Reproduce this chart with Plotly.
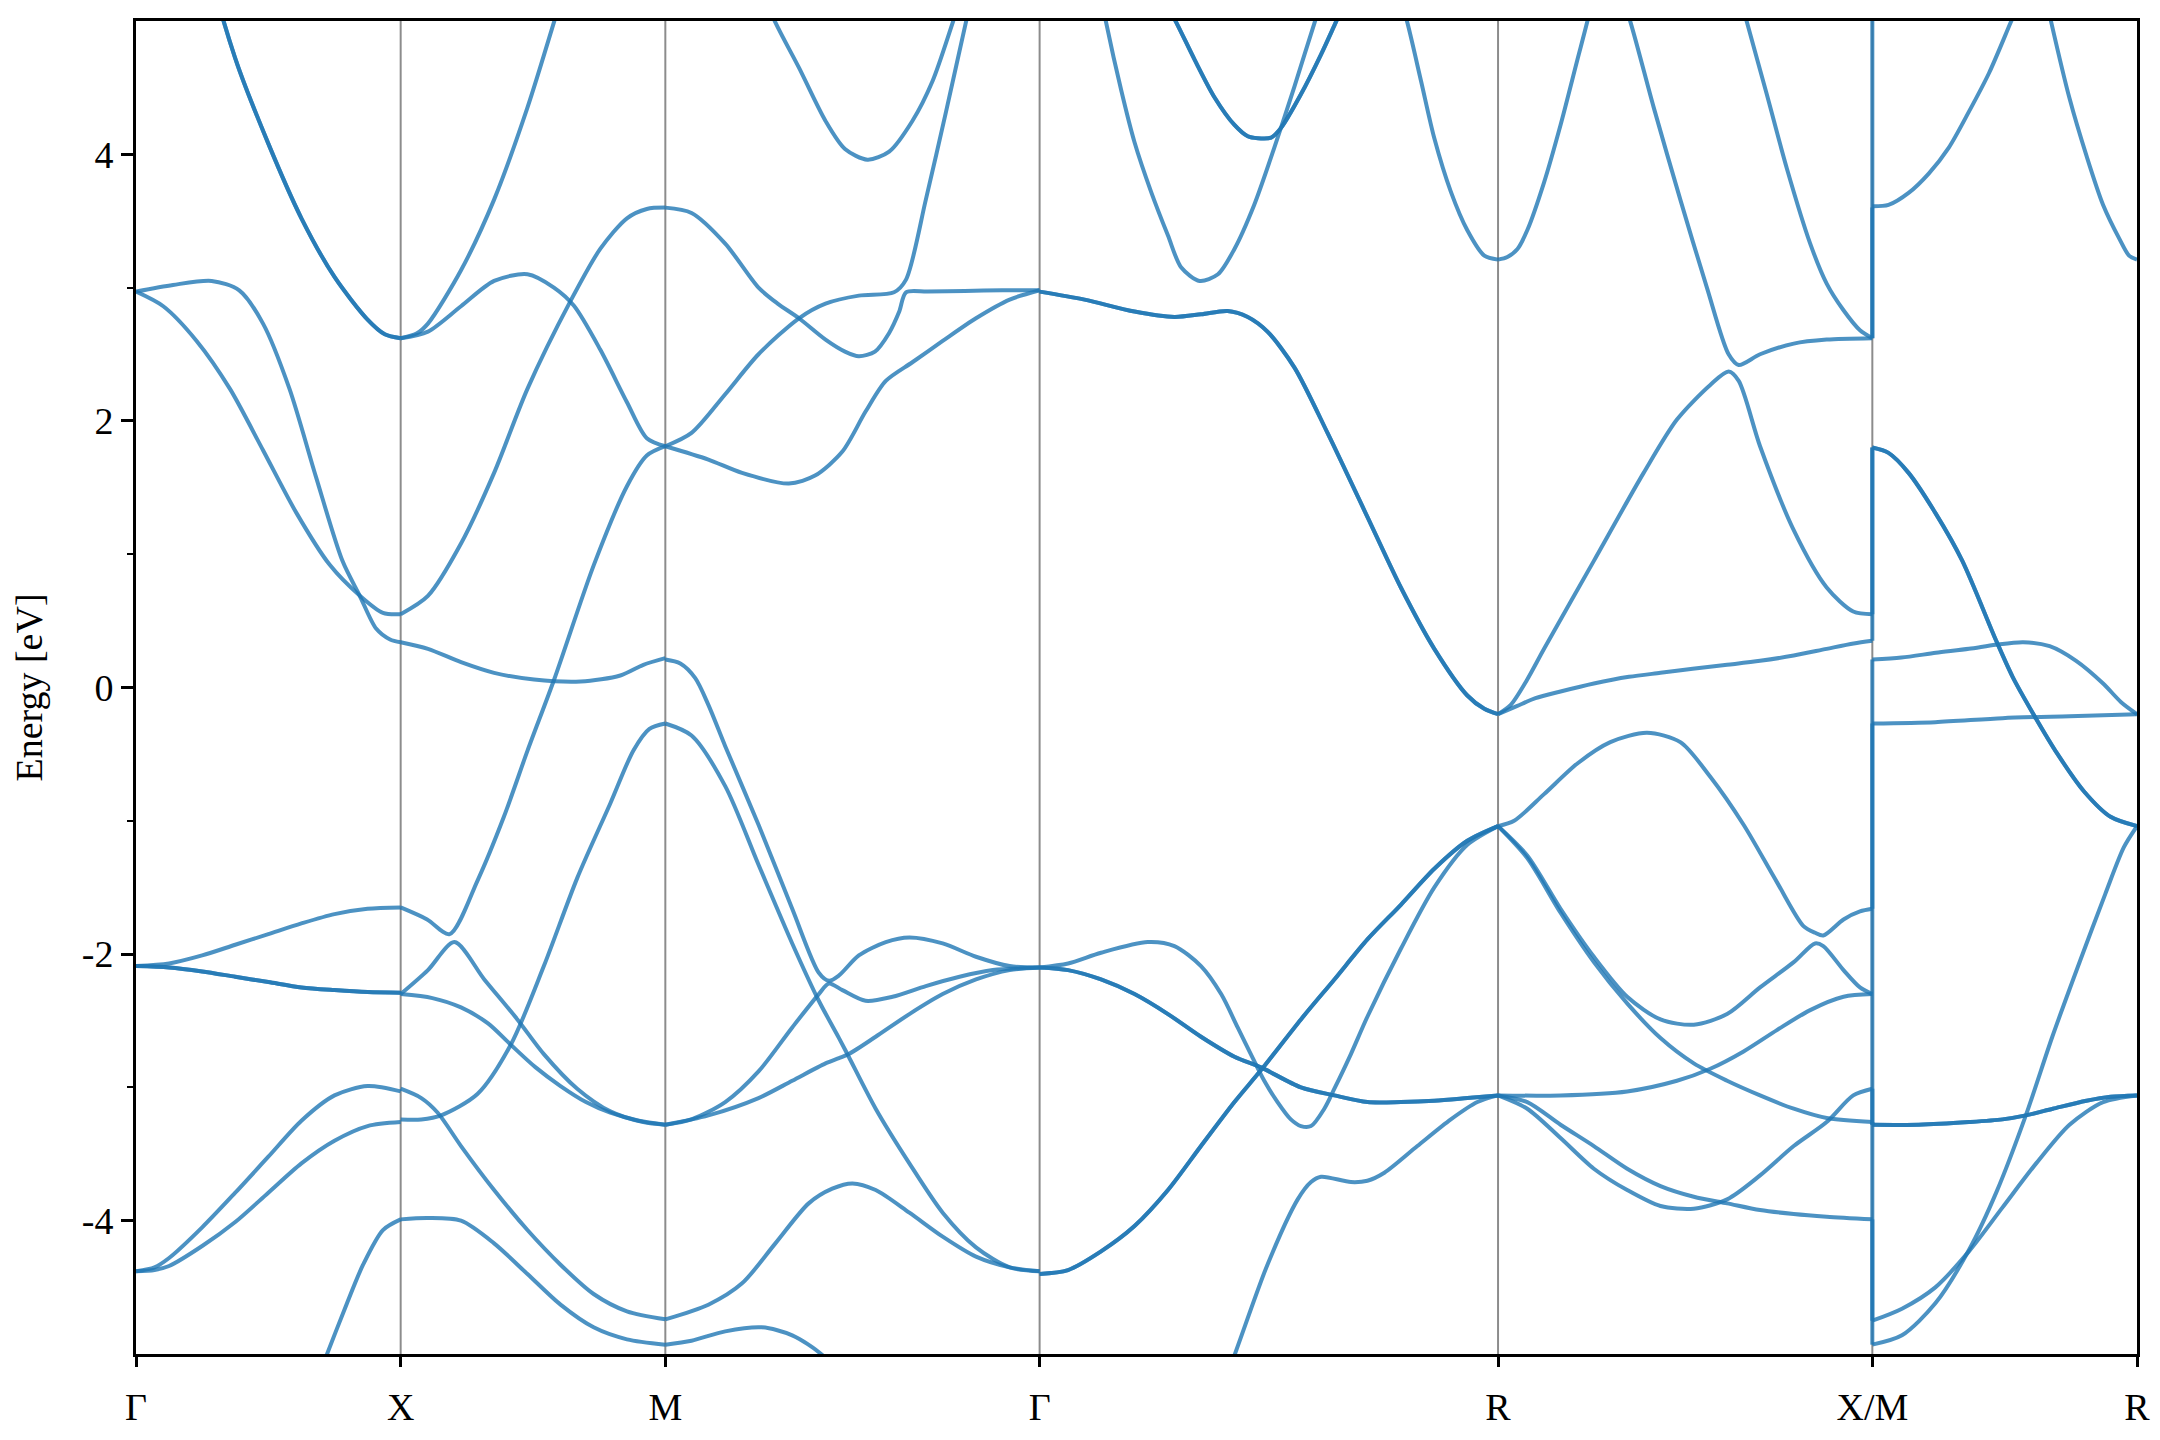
import plotly.graph_objects as go

# ---------------- data ----------------
# high-symmetry labels along the k-path and segment lengths (units of 2*pi/a)
K_LABELS = ["Γ", "X", "M", "Γ", "R", "X/M", "R"]
SEG_LEN = [0.5, 0.5, 0.70711, 0.86603, 0.70711, 0.5]

# Each band piece: (fractional position t along the segment, energy [eV], degeneracy)
GX = [
    ([0, .125, .25, .375, .5, .625, .75, .875, .94, 1], [8.2, 6.8, 5.6, 4.72, 4.08, 3.52, 3.08, 2.76, 2.65, 2.62], 2),
    ([0, .14, .286, .39, .48, .58, .68, .78, .845, .908, .96, 1], [2.97, 3.02, 3.05, 2.98, 2.73, 2.24, 1.58, 0.95, 0.69, 0.44, 0.36, 0.34], 1),
    ([0, .103, .229, .355, .48, .606, .732, .845, .933, 1], [2.97, 2.86, 2.60, 2.24, 1.78, 1.31, 0.92, 0.69, 0.56, 0.55], 1),
    ([0, .125, .25, .375, .5, .625, .75, .875, 1], [-2.09, -2.07, -2.01, -1.93, -1.85, -1.77, -1.70, -1.66, -1.65], 1),
    ([0, .125, .25, .375, .5, .625, .75, .875, 1], [-2.09, -2.10, -2.13, -2.17, -2.21, -2.25, -2.27, -2.285, -2.29], 2),
    ([0, .07, .125, .25, .375, .5, .625, .75, .875, 1], [-4.38, -4.35, -4.28, -4.05, -3.79, -3.52, -3.25, -3.06, -2.99, -3.03], 1),
    ([0, .07, .125, .25, .375, .5, .625, .75, .875, 1], [-4.38, -4.37, -4.34, -4.19, -4.01, -3.79, -3.57, -3.40, -3.29, -3.26], 1),
    ([0, .25, .5, .625, .72, .795, .858, .933, 1], [-7.4, -7.0, -6.1, -5.5, -5.01, -4.63, -4.33, -4.07, -3.99], 1),
]

XM = [
    ([0, .06, .103, .228, .353, .479, .579, .7, .85, 1], [2.62, 2.655, 2.73, 3.13, 3.66, 4.35, 4.99, 5.8, 6.7, 7.2], 1),
    ([0, .103, .228, .353, .479, .579, .654, .754, .855, .93, 1], [2.62, 2.67, 2.86, 3.05, 3.10, 3.0, 2.865, 2.535, 2.14, 1.87, 1.81], 1),
    ([0, .103, .228, .353, .479, .642, .754, .855, .93, 1], [0.55, 0.687, 1.08, 1.61, 2.24, 2.90, 3.29, 3.52, 3.59, 3.60], 1),
    ([0, .103, .228, .353, .504, .68, .83, .917, 1], [0.34, 0.29, 0.19, 0.11, 0.06, 0.045, 0.09, 0.17, 0.22], 1),
    ([0, .1, .185, .29, .39, .48, .58, .73, .855, .93, 1], [-1.65, -1.74, -1.85, -1.45, -0.97, -0.47, 0.06, 0.92, 1.51, 1.74, 1.81], 1),
    ([0, .103, .203, .316, .441, .541, .667, .792, .917, 1], [-2.30, -2.12, -1.91, -2.19, -2.49, -2.75, -3.01, -3.18, -3.26, -3.28], 1),
    ([0, .12, .228, .33, .416, .51, .604, .7, .792, .9, 1], [-2.30, -2.33, -2.40, -2.52, -2.68, -2.85, -2.99, -3.11, -3.19, -3.25, -3.28], 1),
    ([0, .078, .14, .228, .353, .479, .604, .729, .855, 1], [-3.01, -3.08, -3.19, -3.44, -3.77, -4.07, -4.33, -4.55, -4.68, -4.74], 1),
    ([0, .078, .153, .29, .416, .541, .667, .792, .88, .94, 1], [-3.24, -3.24, -3.21, -3.05, -2.68, -2.09, -1.43, -0.87, -0.47, -0.31, -0.27], 1),
    ([0, .103, .228, .353, .479, .604, .729, .855, 1], [-3.99, -3.98, -4.00, -4.17, -4.40, -4.63, -4.80, -4.89, -4.93], 1),
]

MG = [
    ([.2, .294, .357, .428, .48, .54, .598, .66, .714, .768, .85], [5.6, 4.99, 4.65, 4.25, 4.04, 3.96, 4.02, 4.25, 4.55, 4.99, 5.7], 1),
    ([0, .07, .16, .249, .30, .357, .428, .48, .517, .56, .598, .625, .643, .7, .8, .9, 1],
     [3.60, 3.56, 3.33, 3.00, 2.88, 2.77, 2.61, 2.52, 2.485, 2.52, 2.66, 2.82, 2.965, 2.97, 2.975, 2.98, 2.98], 1),
    ([0, .07, .16, .249, .357, .428, .517, .611, .643, .696, .75, .803, .86],
     [1.81, 1.91, 2.20, 2.50, 2.77, 2.88, 2.94, 2.965, 3.06, 3.66, 4.32, 4.99, 5.7], 1),
    ([0, .115, .205, .33, .4, .473, .535, .589, .66, .741, .83, .92, 1],
     [1.81, 1.71, 1.61, 1.53, 1.59, 1.77, 2.07, 2.30, 2.44, 2.60, 2.77, 2.91, 2.98], 1),
    ([0, .04, .08, .115, .16, .249, .339, .41, .437, .464, .517, .589, .652, .741, .83, .92, 1],
     [0.21, 0.18, 0.07, -0.13, -0.44, -1.03, -1.66, -2.14, -2.20, -2.16, -2.01, -1.91, -1.875, -1.92, -2.02, -2.09, -2.10], 1),
    ([0, .07, .16, .249, .339, .41, .464, .49, .562, .652, .741, .83, .92, 1],
     [-0.27, -0.36, -0.74, -1.33, -1.92, -2.35, -2.63, -2.77, -3.16, -3.57, -3.94, -4.20, -4.35, -4.38], 1),
    ([0, .07, .16, .249, .339, .41, .437, .473, .535, .607, .696, .786, .875, 1],
     [-3.28, -3.24, -3.11, -2.88, -2.55, -2.30, -2.22, -2.27, -2.35, -2.32, -2.24, -2.17, -2.12, -2.10], 1),
    ([0, .115, .249, .339, .428, .464, .49, .562, .652, .741, .83, .92, 1],
     [-3.28, -3.21, -3.08, -2.95, -2.82, -2.78, -2.75, -2.62, -2.45, -2.30, -2.19, -2.12, -2.10], 1),
    ([0, .115, .205, .294, .383, .446, .5, .562, .652, .741, .83, .92, 1],
     [-4.74, -4.63, -4.47, -4.17, -3.87, -3.76, -3.72, -3.77, -3.94, -4.12, -4.27, -4.35, -4.38], 1),
    ([0, .07, .16, .258, .339, .42, .5, .6], [-4.93, -4.90, -4.83, -4.80, -4.86, -5.01, -5.3, -5.7], 1),
]

GR = [
    ([0, .098, .207, .294, .352, .41, .454, .497, .556, .628, .715, .788, .861, .933, .97, 1],
     [2.97, 2.91, 2.82, 2.78, 2.80, 2.825, 2.78, 2.67, 2.40, 1.91, 1.28, 0.75, 0.29, -0.06, -0.16, -0.20], 2),
    ([.1, .145, .178, .207, .243, .28, .309, .349, .389, .425, .468, .512, .556, .6, .65],
     [5.8, 4.99, 4.48, 4.09, 3.72, 3.39, 3.15, 3.05, 3.10, 3.29, 3.62, 4.05, 4.51, 4.99, 5.5], 1),
    ([.25, .298, .338, .381, .425, .454, .476, .505, .527, .57, .614, .646, .7],
     [5.3, 4.99, 4.71, 4.43, 4.22, 4.135, 4.12, 4.125, 4.20, 4.45, 4.75, 4.99, 5.4], 2),
    ([.76, .802, .832, .861, .897, .933, .97, 1], [5.5, 4.99, 4.55, 4.12, 3.72, 3.43, 3.24, 3.21], 1),
    ([0, .062, .134, .236, .294, .352, .396, .432, .465, .49, .519, .548, .57, .592, .621, .643, .679, .715, .788, .861, .933, 1],
     [-2.10, -2.07, -1.99, -1.91, -1.94, -2.09, -2.30, -2.55, -2.78, -2.95, -3.11, -3.24, -3.29, -3.29, -3.16, -3.01,
      -2.75, -2.47, -1.96, -1.50, -1.18, -1.04], 1),
    ([0, .062, .134, .207, .28, .352, .425, .483, .57, .643, .715, .788, .861, .933, 1],
     [-2.10, -2.12, -2.19, -2.30, -2.45, -2.62, -2.77, -2.85, -3.0, -3.06, -3.11, -3.11, -3.10, -3.08, -3.06], 2),
    ([0, .062, .134, .207, .28, .352, .425, .483, .57, .643, .715, .788, .861, .933, 1],
     [-4.40, -4.37, -4.23, -4.04, -3.77, -3.44, -3.11, -2.87, -2.49, -2.19, -1.89, -1.63, -1.36, -1.15, -1.04], 2),
    ([.35, .425, .497, .563, .592, .614, .679, .715, .752, .824, .897, .955, 1],
     [-5.7, -5.01, -4.33, -3.84, -3.71, -3.67, -3.71, -3.70, -3.64, -3.44, -3.24, -3.11, -3.06], 1),
]

RX = [
    ([0, .025, .052, .078, .123, .167, .212, .238, .28], [3.21, 3.23, 3.29, 3.43, 3.79, 4.22, 4.71, 4.99, 5.5], 1),
    ([.3, .354, .416, .487, .558, .616, .643, .7, .79, .878, 1], [5.45, 4.99, 4.35, 3.66, 3.0, 2.50, 2.42, 2.50, 2.58, 2.61, 2.62], 1),
    ([.62, .665, .718, .772, .834, .878, .923, .967, 1], [5.45, 4.99, 4.45, 3.89, 3.33, 3.03, 2.83, 2.68, 2.62], 1),
    ([0, .034, .078, .123, .256, .389, .478, .567, .616, .643, .7, .79, .878, .949, 1],
     [-0.20, -0.13, 0.06, 0.29, 0.95, 1.61, 2.01, 2.27, 2.37, 2.30, 1.81, 1.18, 0.75, 0.57, 0.55], 1),
    ([0, .05, .1, .167, .256, .35, .434, .52, .612, .7, .79, .878, .95, 1],
     [-0.20, -0.14, -0.08, -0.03, 0.03, 0.08, 0.11, 0.14, 0.17, 0.20, 0.24, 0.29, 0.33, 0.35], 1),
    ([0, .043, .123, .212, .3, .398, .487, .567, .656, .745, .816, .847, .869, .923, .967, 1],
     [-1.04, -1.0, -0.80, -0.57, -0.41, -0.34, -0.41, -0.67, -1.03, -1.46, -1.79, -1.84, -1.86, -1.74, -1.68, -1.66], 1),
    ([0, .078, .167, .256, .345, .434, .523, .612, .7, .79, .847, .869, .923, .967, 1],
     [-1.04, -1.26, -1.66, -2.02, -2.32, -2.49, -2.53, -2.45, -2.25, -2.06, -1.92, -1.94, -2.12, -2.25, -2.30], 1),
    ([0, .078, .167, .256, .345, .434, .523, .612, .7, .79, .878, 1],
     [-1.04, -1.28, -1.69, -2.06, -2.37, -2.63, -2.82, -2.95, -3.06, -3.16, -3.23, -3.26], 1),
    ([0, .078, .167, .256, .345, .434, .523, .612, .7, .79, .878, .949, 1],
     [-3.06, -3.16, -3.38, -3.61, -3.77, -3.89, -3.91, -3.84, -3.66, -3.44, -3.26, -3.06, -3.01], 1),
    ([0, .078, .167, .256, .345, .434, .523, .612, .7, .79, .878, 1],
     [-3.06, -3.11, -3.28, -3.44, -3.61, -3.74, -3.82, -3.87, -3.92, -3.95, -3.97, -3.99], 1),
    ([0, .167, .345, .478, .567, .656, .745, .834, .923, 1],
     [-3.06, -3.06, -3.03, -2.95, -2.86, -2.73, -2.57, -2.42, -2.32, -2.30], 1),
]

MR = [
    ([0, .061, .137, .213, .289, .365, .441, .523, .6], [3.61, 3.62, 3.71, 3.855, 4.05, 4.32, 4.61, 4.99, 5.35], 1),
    ([.62, .676, .745, .809, .872, .935, .97, 1], [5.5, 4.99, 4.42, 3.99, 3.62, 3.36, 3.24, 3.21], 1),
    ([0, .061, .137, .238, .34, .466, .53, .6, .7, .8, .9, 1],
     [1.80, 1.76, 1.61, 1.31, 0.95, 0.36, 0.08, -0.17, -0.50, -0.78, -0.97, -1.04], 2),
    ([0, .11, .24, .365, .466, .57, .67, .77, .872, .94, 1],
     [0.21, 0.225, 0.26, 0.29, 0.32, 0.34, 0.31, 0.20, 0.03, -0.11, -0.20], 1),
    ([0, .238, .492, .745, 1], [-0.27, -0.26, -0.23, -0.215, -0.20], 1),
    ([0, .175, .365, .492, .58, .682, .809, .9, 1], [-3.28, -3.28, -3.26, -3.24, -3.21, -3.16, -3.10, -3.07, -3.06], 2),
    ([0, .112, .238, .365, .492, .619, .745, .872, 1], [-4.75, -4.66, -4.50, -4.23, -3.90, -3.57, -3.28, -3.11, -3.06], 1),
    ([0, .112, .238, .365, .47, .58, .68, .785, .88, .95, 1],
     [-4.93, -4.86, -4.62, -4.22, -3.78, -3.21, -2.62, -2.05, -1.55, -1.20, -1.04], 1),
]

# band energies on either side of the X|M discontinuity (E at X, E at M)
XM_JUMP_EX = [2.62, 2.62, 0.55, 0.35, -1.66, -2.30, -2.30, -3.01, -3.26, -3.99]
XM_JUMP_EM = [7.00, 3.60, 1.80, 1.80, 0.21, -0.27, -3.28, -3.28, -4.75, -4.93]

SEGMENTS = [GX, XM, MG, GR, RX, MR]

# ---------------- figure ----------------
BAND_COLOR = "rgba(31,119,180,0.8)"
LW = 4
FONT = "Liberation Serif, Times New Roman, serif"
FS = 38

kpos = [0.0]
for L in SEG_LEN:
    kpos.append(kpos[-1] + L)

fig = go.Figure()

for s, seg in enumerate(SEGMENTS):
    x0, L = kpos[s], SEG_LEN[s]
    for t, e, deg in seg:
        xs = [x0 + ti * L for ti in t]
        for _ in range(deg):
            fig.add_trace(go.Scatter(
                x=xs, y=e, mode="lines",
                line=dict(color=BAND_COLOR, width=LW, shape="spline", smoothing=0.8),
                hoverinfo="skip", showlegend=False))

xj = kpos[5]
for ex, em in zip(XM_JUMP_EX, XM_JUMP_EM):
    fig.add_trace(go.Scatter(x=[xj, xj], y=[ex, em], mode="lines",
                             line=dict(color=BAND_COLOR, width=LW),
                             hoverinfo="skip", showlegend=False))

for xv in kpos[1:-1]:
    fig.add_shape(type="line", x0=xv, x1=xv, y0=-5, y1=5, xref="x", yref="y",
                  line=dict(color="rgba(0,0,0,0.45)", width=2), layer="below")

# page body has an 8 px default margin; size the figure so the plot box lands where it should
fig.update_layout(
    width=2144, height=1424,
    margin=dict(l=128, r=15, t=13, b=78),
    paper_bgcolor="white", plot_bgcolor="white",
    font=dict(family=FONT, size=FS, color="black"),
    showlegend=False,
)
fig.update_xaxes(
    range=[kpos[0], kpos[-1]], showgrid=False, zeroline=False, automargin=False,
    showline=True, linecolor="black", linewidth=3, mirror=True,
    tickmode="array", tickvals=kpos, ticktext=K_LABELS,
    ticks="outside", ticklen=10, tickwidth=3, tickcolor="black",
    ticklabelstandoff=7,
    tickfont=dict(family=FONT, size=FS, color="black"),
)
fig.update_yaxes(
    range=[-5, 5], showgrid=False, zeroline=False, automargin=False,
    showline=True, linecolor="black", linewidth=3, mirror=True,
    tickmode="array", tickvals=[-4, -2, 0, 2, 4], ticktext=["-4", "-2", "0", "2", "4"],
    ticks="outside", ticklen=12, tickwidth=3, tickcolor="black",
    minor=dict(tickvals=[-3, -1, 1, 3], ticks="outside", ticklen=6, tickwidth=2, tickcolor="black"),
    tickfont=dict(family=FONT, size=FS, color="black"),
    title=dict(text="Energy [eV]", font=dict(family=FONT, size=FS, color="black"), standoff=40),
)

fig.write_html("out.html")
